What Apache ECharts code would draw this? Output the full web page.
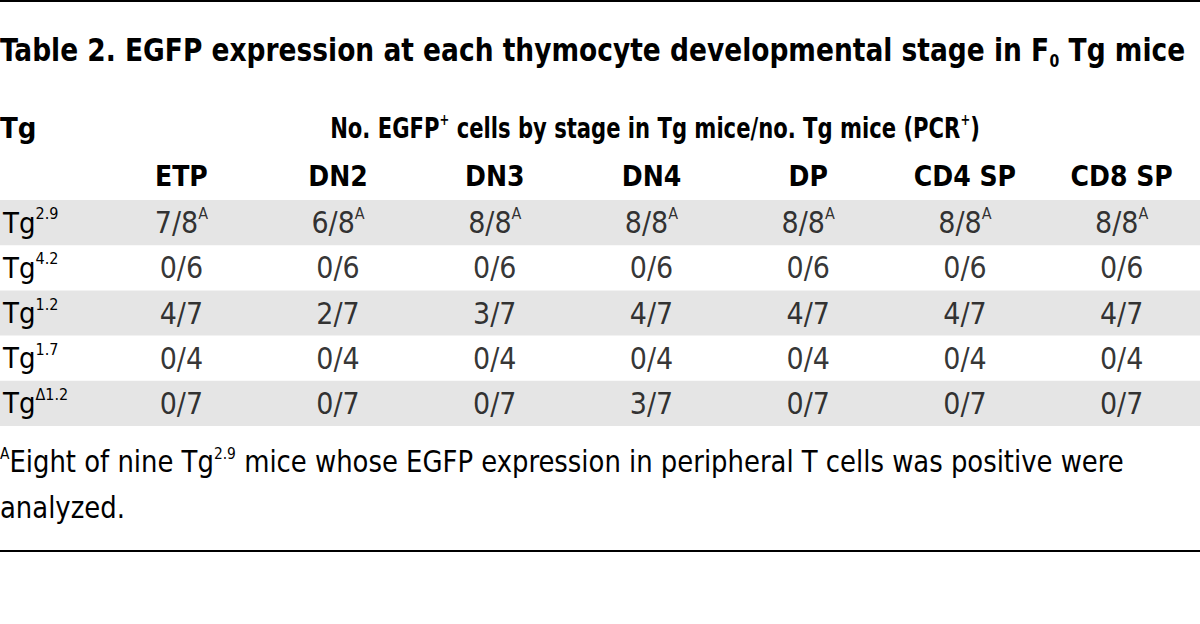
<!DOCTYPE html>
<html>
<head>
<meta charset="utf-8">
<script src="https://cdn.jsdelivr.net/npm/echarts@6/dist/echarts.min.js"></script>
<style>
  html, body { margin: 0; padding: 0; background: #fff; }
  #main { width: 1200px; height: 624px; }
</style>
</head>
<body>
<div id="main"></div>
<script>
// table content
const stages = ["ETP", "DN2", "DN3", "DN4", "DP", "CD4 SP", "CD8 SP"];
const tgLines = ["2.9", "4.2", "1.2", "1.7", "Δ1.2"];
const positive = [
  [7, 6, 8, 8, 8, 8, 8],
  [0, 0, 0, 0, 0, 0, 0],
  [4, 2, 3, 4, 4, 4, 4],
  [0, 0, 0, 0, 0, 0, 0],
  [0, 0, 0, 3, 0, 0, 0]
];
const totals = [8, 6, 7, 4, 7];
const footMark = [true, false, false, false, false];
const shadedRows = [0, 2, 4];

const FONT = '"DejaVu Sans Condensed", "Liberation Sans Narrow", "Noto Sans", sans-serif';
const INK = "#000";

let cells = [];
positive.forEach((row, r) => {
  row.forEach((v, c) => {
    let txt = "{n|" + v + "/" + totals[r] + "}" + (footMark[r] ? "{s|A}" : "");
    cells.push({ value: [stages[c], tgLines[r]], txt: txt });
  });
});

let chart = echarts.init(document.getElementById("main"), null, { renderer: "svg" });

chart.setOption({
  animation: false,
  backgroundColor: "#fff",
  grid: { left: 100, right: 0, top: 200, bottom: 198 },
  xAxis: {
    type: "category",
    position: "top",
    data: stages,
    axisLine: { show: false },
    axisTick: { show: false },
    splitLine: { show: false },
    axisLabel: { fontFamily: FONT, fontWeight: "bold", fontSize: 28, color: INK, margin: 10 }
  },
  yAxis: {
    type: "category",
    inverse: true,
    z: 5,
    data: tgLines,
    axisLine: { show: false },
    axisTick: { show: false },
    splitLine: { show: false },
    axisLabel: {
      align: "left",
      margin: 100,
      formatter: v => "{b|Tg}{s|" + v + "}",
      rich: {
        b: { fontFamily: FONT, fontSize: 29, color: INK, lineHeight: 34 },
        s: { fontFamily: FONT, fontSize: 16, color: INK, lineHeight: 24, verticalAlign: "top" }
      }
    }
  },
  graphic: [
    { type: "line", shape: { x1: 0, y1: 1, x2: 1200, y2: 1 }, style: { stroke: INK, lineWidth: 2 } },
    { type: "line", shape: { x1: 0, y1: 551, x2: 1200, y2: 551 }, style: { stroke: INK, lineWidth: 2 } },
    {
      // title, squeezed to match the condensed face
      type: "text", x: 0, y: 50, scaleX: 0.92,
      style: {
        text: "{t|Table 2. EGFP expression at each thymocyte developmental stage in F}{sub|0}{t| Tg mice}",
        verticalAlign: "middle",
        rich: {
          t: { fontFamily: FONT, fontWeight: "bold", fontSize: 32, fill: INK, lineHeight: 40 },
          sub: { fontFamily: FONT, fontWeight: "bold", fontSize: 17, fill: INK, lineHeight: 28, verticalAlign: "bottom" }
        }
      }
    },
    {
      type: "text", x: 0, y: 128,
      style: { text: "Tg", font: "bold 29px " + FONT, fill: INK, verticalAlign: "middle" }
    },
    {
      type: "text", x: 655, y: 128, scaleX: 0.81,
      style: {
        text: "{h|No. EGFP}{p|+}{h| cells by stage in Tg mice/no. Tg mice (PCR}{p|+}{h|)}",
        align: "center", verticalAlign: "middle",
        rich: {
          h: { fontFamily: FONT, fontWeight: "bold", fontSize: 29, fill: INK, lineHeight: 34 },
          p: { fontFamily: FONT, fontWeight: "bold", fontSize: 16, fill: INK, lineHeight: 22, verticalAlign: "top" }
        }
      }
    },
    {
      type: "text", x: 0, y: 462, scaleX: 0.96,
      style: {
        text: "{s|A}{f|Eight of nine Tg}{s|2.9}{f| mice whose EGFP expression in peripheral T cells was positive were}",
        verticalAlign: "middle",
        rich: {
          f: { fontFamily: FONT, fontSize: 30, fill: INK, lineHeight: 34 },
          s: { fontFamily: FONT, fontSize: 16, fill: INK, lineHeight: 24, verticalAlign: "top" }
        }
      }
    },
    {
      type: "text", x: 0, y: 508, scaleX: 0.96,
      style: { text: "analyzed.", font: "30px " + FONT, fill: INK, verticalAlign: "middle" }
    }
  ],
  series: [
    {
      type: "custom",
      data: shadedRows.map(r => [0, tgLines[r]]),
      encode: { x: 0, y: 1 },
      renderItem: (params, api) => {
        let y = api.coord([0, api.value(1)])[1];
        let h = api.size([0, 1])[1];
        return {
          type: "rect",
          shape: { x: 0, y: y - h / 2, width: api.getWidth(), height: h },
          style: { fill: "#e5e5e5" }
        };
      },
      z: 1,
      silent: true
    },
    {
      type: "scatter",
      symbolSize: 0,
      data: cells,
      z: 3,
      label: {
        show: true,
        position: "inside",
        formatter: p => p.data.txt,
        rich: {
          n: { fontFamily: FONT, fontSize: 30, color: INK, lineHeight: 34 },
          s: { fontFamily: FONT, fontSize: 16, color: INK, lineHeight: 24, verticalAlign: "top" }
        }
      }
    }
  ]
});
</script>
</body>
</html>
